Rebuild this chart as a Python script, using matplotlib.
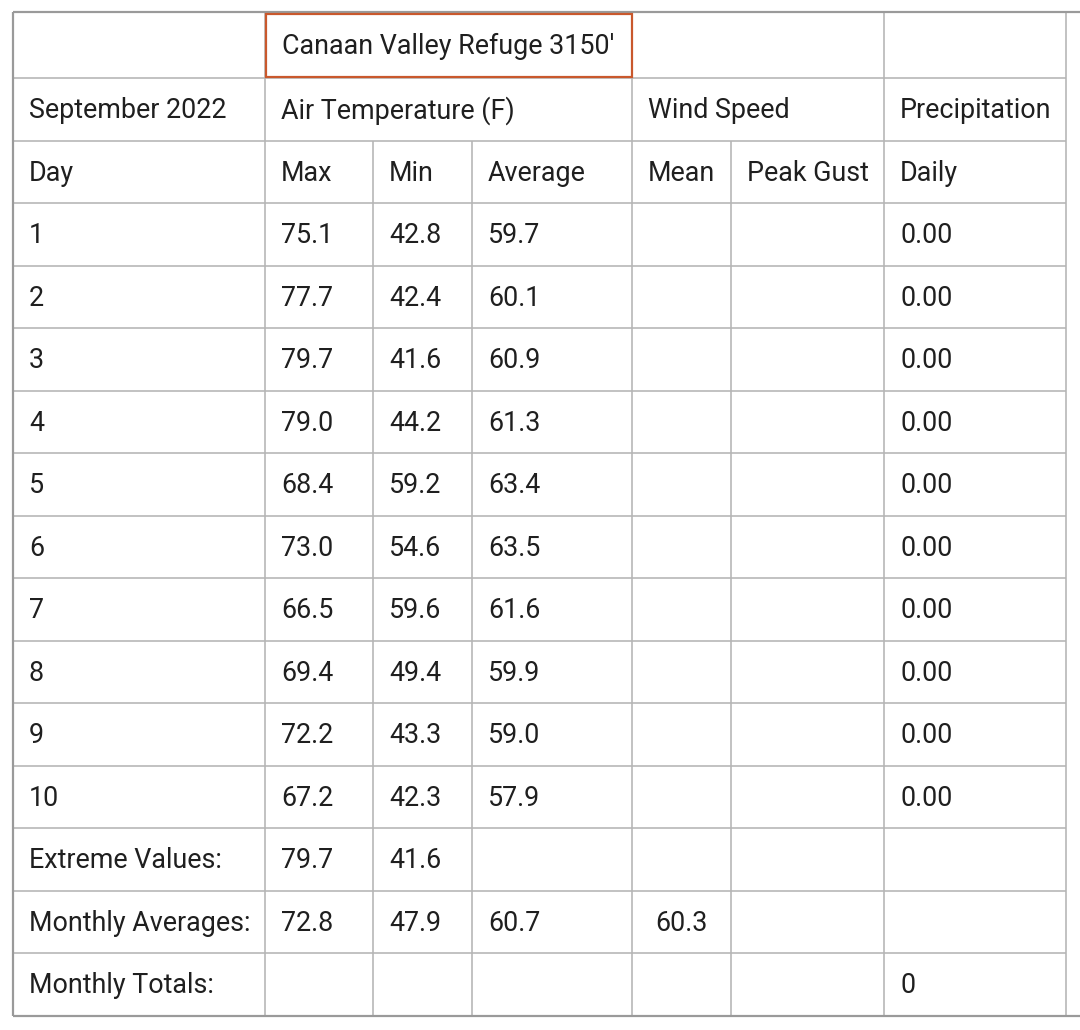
import matplotlib
matplotlib.use("Agg")
import matplotlib.pyplot as plt
from matplotlib.patches import Rectangle

plt.rcParams['font.family'] = ['Roboto', 'DejaVu Sans']

station = "Canaan Valley Refuge 3150'"
month_label = "September 2022"
group_headers = ["Air Temperature (F)", "Wind Speed", "Precipitation"]
sub_headers = ["Day", "Max", "Min", "Average", "Mean", "Peak Gust", "Daily"]

days = ["1", "2", "3", "4", "5", "6", "7", "8", "9", "10"]
t_max = ["75.1", "77.7", "79.7", "79.0", "68.4", "73.0", "66.5", "69.4", "72.2", "67.2"]
t_min = ["42.8", "42.4", "41.6", "44.2", "59.2", "54.6", "59.6", "49.4", "43.3", "42.3"]
t_avg = ["59.7", "60.1", "60.9", "61.3", "63.4", "63.5", "61.6", "59.9", "59.0", "57.9"]
wind_mean = [""] * 10
wind_gust = [""] * 10
precip = ["0.00"] * 10

extreme_row = ["Extreme Values:", "79.7", "41.6", "", "", "", ""]
avg_row = ["Monthly Averages:", "72.8", "47.9", "60.7", "60.3", "", ""]
total_row = ["Monthly Totals:", "", "", "", "", "", "0"]

# layout (pixels)
W, H = 1080, 1030
col_x = [13, 265, 373, 472, 632, 731, 884, 1066]
row_y = [12, 78, 140.5] + [140.5 + 62.5 * (i + 1) for i in range(14)]
pad = 16
fs = 19.4
dy = -1.5
txt_color = "#1f1f1f"
grid_color = "#b5b5b5"
border_color = "#9a9a9a"

fig = plt.figure(figsize=(W / 100, H / 100), dpi=100)
ax = fig.add_axes([0, 0, 1, 1])
ax.set_xlim(0, W)
ax.set_ylim(H, 0)
ax.axis("off")

lw_px = 1.6
lw = lw_px * 72 / 100

def hline(y, x0, x1, c=grid_color, w=lw):
    ax.plot([x0, x1], [y, y], color=c, lw=w, solid_capstyle="butt")

def vline(x, y0, y1, c=grid_color, w=lw):
    ax.plot([x, x], [y0, y1], color=c, lw=w, solid_capstyle="butt")

top, bottom = row_y[0], row_y[-1]
for y in row_y[1:-1]:
    hline(y, col_x[0], col_x[-1])
spans_by_row = {
    0: [13, 265, 632, 884, 1066],
    1: [13, 265, 632, 884, 1066],
}
for r in range(len(row_y) - 1):
    xs = spans_by_row.get(r, col_x)
    for x in xs[1:]:
        vline(x, row_y[r], row_y[r + 1])
hline(top, col_x[0], W, c=border_color, w=2.2 * 72 / 100)
hline(bottom, col_x[0], W, c=border_color, w=2.2 * 72 / 100)
vline(col_x[0], top, bottom, c=border_color, w=2.2 * 72 / 100)

ax.add_patch(Rectangle((266, 13.5), 632 - 266, 77 - 13.5, fill=False,
                       edgecolor="#c9582c", lw=2.2 * 72 / 100, zorder=5))

def cell_text(x, r, s, ha="left"):
    yc = (row_y[r] + row_y[r + 1]) / 2 + dy
    ax.text(x, yc, s, ha=ha, va="center_baseline", fontsize=fs, color=txt_color)

cell_text(col_x[1] + pad + 1, 0, station)
cell_text(col_x[0] + pad, 1, month_label)
cell_text(col_x[1] + pad, 1, group_headers[0])
cell_text(col_x[4] + pad, 1, group_headers[1])
cell_text(col_x[6] + pad, 1, group_headers[2])
for c, s in enumerate(sub_headers):
    cell_text(col_x[c] + pad, 2, s)

cols = [days, t_max, t_min, t_avg, wind_mean, wind_gust, precip]
for i in range(len(days)):
    for c, col in enumerate(cols):
        if col[i]:
            cell_text(col_x[c] + pad, 3 + i, col[i])

for k, row in enumerate([extreme_row, avg_row, total_row]):
    r = 3 + len(days) + k
    for c, s in enumerate(row):
        if not s:
            continue
        if c == 4:
            cell_text((col_x[4] + col_x[5]) / 2, r, s, ha="center")
        else:
            cell_text(col_x[c] + pad, r, s)

fig.savefig("out.png", dpi=100)
